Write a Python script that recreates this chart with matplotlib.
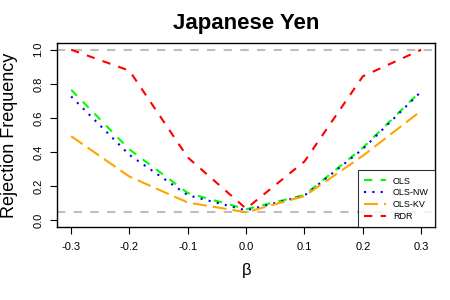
import matplotlib.pyplot as plt

plt.rcParams['font.family'] = ['Liberation Sans', 'DejaVu Sans']

# Shift of the true beta
beta = [-0.3, -0.2, -0.1, 0.0, 0.1, 0.2, 0.3]

# Rejection frequency for each test
ols = [0.765, 0.415, 0.160, 0.065, 0.148, 0.425, 0.760]
ols_nw = [0.726, 0.383, 0.147, 0.058, 0.145, 0.418, 0.755]
ols_kv = [0.493, 0.256, 0.104, 0.047, 0.142, 0.378, 0.642]
rdr = [1.000, 0.877, 0.368, 0.068, 0.345, 0.844, 1.000]

fig = plt.figure(figsize=(4.5, 3), dpi=100)
ax = fig.add_axes([0.127, 0.243, 0.840, 0.614])

# Reference lines: nominal size and power of one
ax.axhline(1.0, color='#bebebe', linestyle=(0, (4, 4)), linewidth=1.5)
ax.axhline(0.05, color='#bebebe', linestyle=(0, (4, 4)), linewidth=1.5)

ax.plot(beta, ols, color='#00ff00', linestyle=(0, (4, 4)), linewidth=1.5, label='OLS')
ax.plot(beta, ols_nw, color='#0000ff', linestyle=(0, (1, 3)), linewidth=1.5, label='OLS-NW')
ax.plot(beta, ols_kv, color='#ffa500', linestyle=(0, (6.7, 2.9)), linewidth=1.5, label='OLS-KV')
ax.plot(beta, rdr, color='#ff0000', linestyle=(0, (4, 4)), linewidth=1.5, label='RDR')

ax.set_xlim(-0.324, 0.324)
ax.set_ylim(-0.04, 1.04)
ax.set_xticks(beta)
ax.set_xticklabels(['-0.3', '-0.2', '-0.1', '0.0', '0.1', '0.2', '0.3'])
ax.set_yticks([0.0, 0.2, 0.4, 0.6, 0.8, 1.0])
ax.set_yticklabels(['0.0', '0.2', '0.4', '0.6', '0.8', '1.0'], rotation=90, va='center')
ax.tick_params(labelsize=8, length=5, width=0.8)
ax.tick_params(axis='x', pad=6)
ax.tick_params(axis='y', pad=5)
for side in ax.spines.values():
    side.set_linewidth(1.0)

ax.set_title('Japanese Yen', fontsize=16, fontweight='bold', pad=10)
ax.set_xlabel('\u03b2', fontsize=12, labelpad=8)
ax.set_ylabel('Rejection Frequency', fontsize=13, labelpad=11)

legend = ax.legend(loc='lower right', fontsize=6.5, frameon=True, fancybox=False,
                   edgecolor='black', borderaxespad=0, handlelength=2.4,
                   labelspacing=0.3, borderpad=0.7, handletextpad=0.8)
legend.get_frame().set_linewidth(0.8)

fig.savefig('out.png', dpi=100)
